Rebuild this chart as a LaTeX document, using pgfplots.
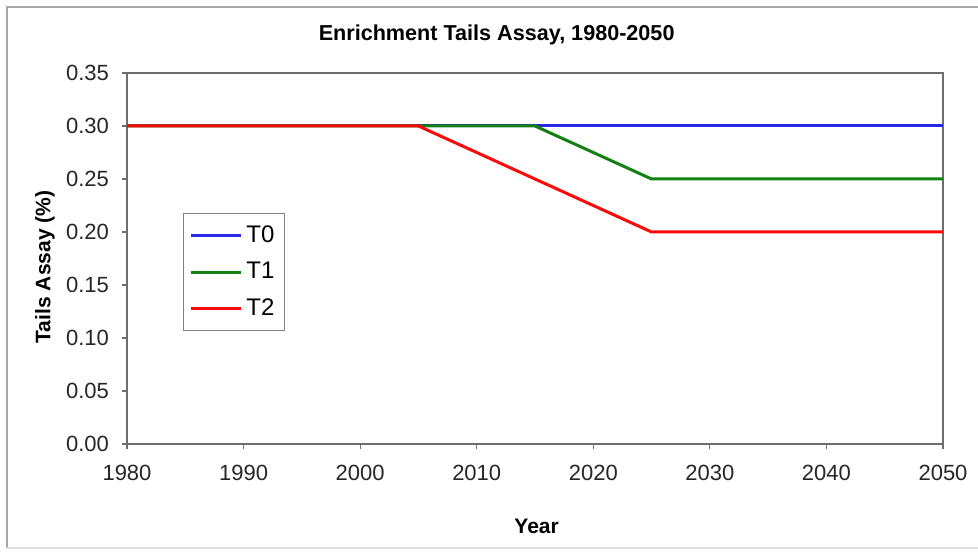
\documentclass[border=0pt]{standalone}
\usepackage{pgfplots}
\pgfplotsset{compat=1.18}
\usepackage{fontspec}
\setmainfont{Liberation Sans}

\definecolor{tzero}{RGB}{40,40,230}
\definecolor{tone}{RGB}{20,128,20}
\definecolor{ttwo}{RGB}{250,10,10}
\definecolor{axgray}{RGB}{110,110,110}

\begin{document}
\begin{tikzpicture}
\path[use as bounding box] (0,0) rectangle (489pt,275.5pt);
\draw[black!35, line width=0.6pt] (3.5pt,1.5pt) -- (3.5pt,272pt) -- (489pt,272pt);
\draw[black!12, line width=0.6pt] (3.5pt,1.5pt) -- (489pt,1.5pt);
\begin{axis}[
    at={(63.5pt,53.5pt)}, anchor=south west,
    scale only axis,
    width=408pt, height=185.5pt,
    xmin=1980, xmax=2050,
    ymin=0, ymax=0.35,
    xtick={1980,1990,...,2050},
    ytick={0,0.05,...,0.36},
    axis line style={axgray, line width=0.6pt},
    tick style={axgray, line width=0.6pt},
    tick align=outside,
    major tick length=2.5pt,
    xtick pos=bottom, ytick pos=left,
    /pgf/number format/assume math mode=true,
    x tick label style={/pgf/number format/1000 sep={}, font=\fontsize{11}{13}\selectfont,
        text=black!85, yshift=-4.5pt},
    y tick label style={/pgf/number format/fixed, /pgf/number format/fixed zerofill,
        /pgf/number format/precision=2, font=\fontsize{11}{13}\selectfont, text=black!85,
        xshift=-3pt},
    every axis title shift=0pt,
    title={Enrichment Tails Assay, 1980-2050},
    title style={at={(axis description cs:0.453,1.102)}, anchor=center,
        font=\bfseries\fontsize{10.8}{12}\selectfont},
    xlabel={Year},
    xlabel style={at={(axis description cs:0.502,-0.221)}, anchor=center,
        font=\bfseries\fontsize{10.5}{12}\selectfont},
    ylabel={Tails Assay (\%)},
    ylabel style={at={(axis description cs:-0.1005,0.477)}, anchor=center, rotate=0,
        font=\bfseries\fontsize{10.5}{12}\selectfont},
    legend style={at={(axis description cs:0.0686,0.6226)}, anchor=north west,
        draw=black!50, line width=0.5pt, font=\fontsize{12}{14}\selectfont,
        row sep=4.5pt, inner xsep=3pt, inner ysep=4pt},
    legend cell align=left,
    legend image code/.code={\draw[#1, line width=1.5pt] (0pt,0pt) -- (25pt,0pt);},
]
\addplot[tzero, line width=1.5pt] coordinates {(1980,0.30) (2050,0.30)};
\addlegendentry{T0}
\addplot[tone, line width=1.5pt] coordinates {
    (1980,0.30) (2015,0.30) (2016,0.295) (2017,0.290) (2018,0.285) (2019,0.280)
    (2020,0.275) (2021,0.270) (2022,0.265) (2023,0.260) (2024,0.255) (2025,0.250)
    (2050,0.250)};
\addlegendentry{T1}
\addplot[ttwo, line width=1.5pt] coordinates {
    (1980,0.30) (2005,0.30) (2006,0.295) (2007,0.290) (2008,0.285) (2009,0.280)
    (2010,0.275) (2011,0.270) (2012,0.265) (2013,0.260) (2014,0.255) (2015,0.250)
    (2016,0.245) (2017,0.240) (2018,0.235) (2019,0.230) (2020,0.225) (2021,0.220)
    (2022,0.215) (2023,0.210) (2024,0.205) (2025,0.200) (2050,0.200)};
\addlegendentry{T2}
\end{axis}
\end{tikzpicture}
\end{document}
